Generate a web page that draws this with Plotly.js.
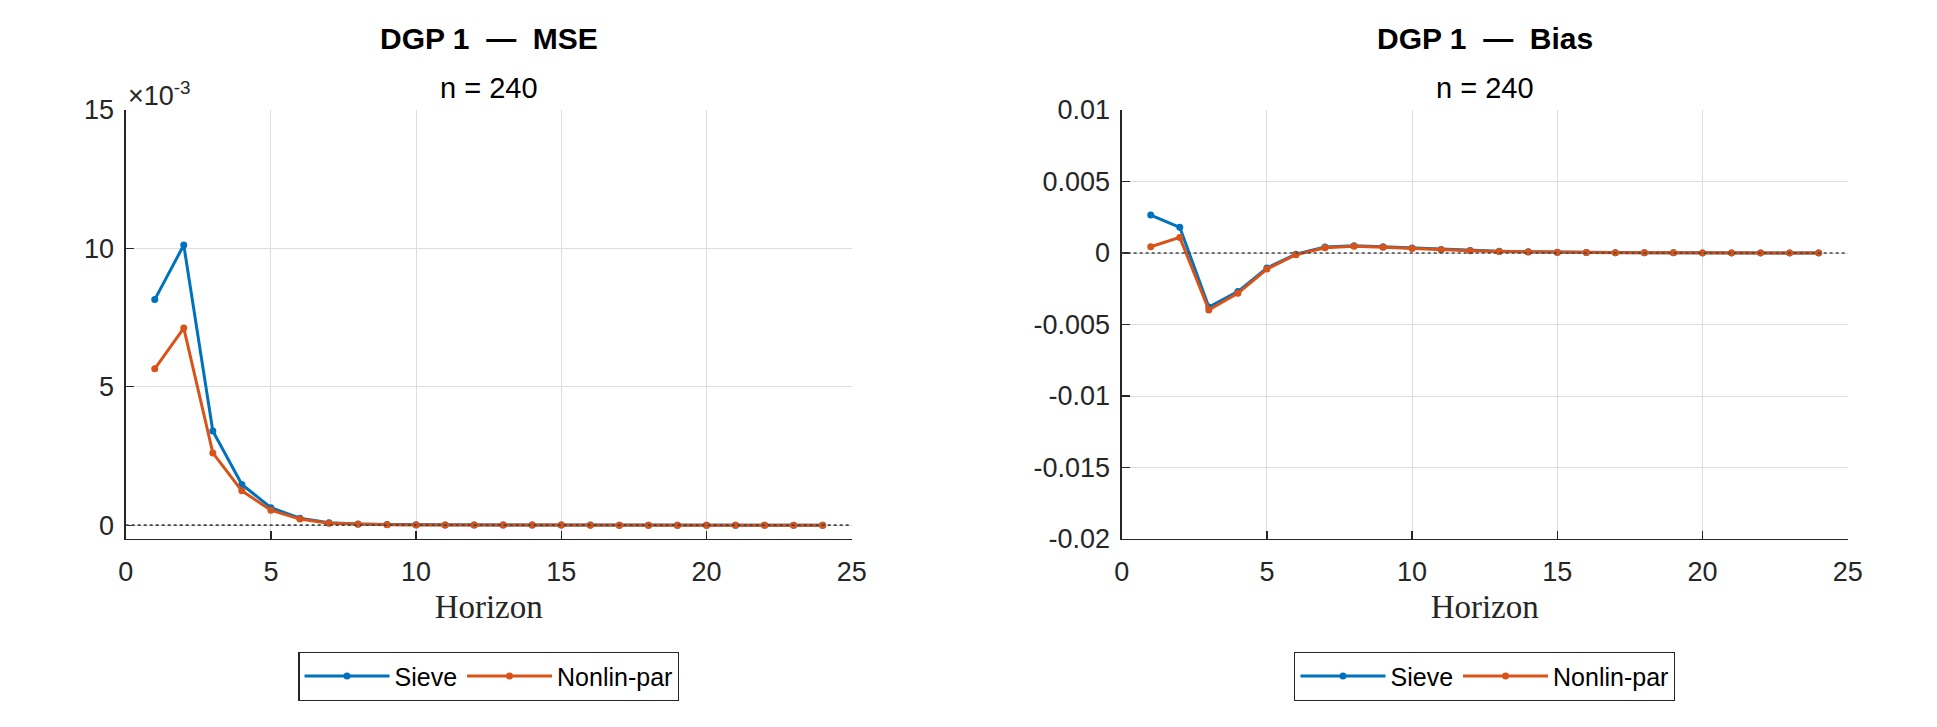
<!DOCTYPE html>
<html>
<head>
<meta charset="utf-8">
<script src="https://cdn.plot.ly/plotly-3.0.1.min.js"></script>
<style>html,body{margin:0;padding:0;background:#fff;}#chart{width:1937px;height:727px;}</style>
</head>
<body>
<div id="chart"></div>
<script>
// ---- data ----
const horizon = [1,2,3,4,5,6,7,8,9,10,11,12,13,14,15,16,17,18,19,20,21,22,23,24];
const mseSieve  = [8.15e-3,10.12e-3,3.40e-3,1.47e-3,0.63e-3,0.25e-3,0.09e-3,0.04e-3,0.02e-3,0.012e-3,0.008e-3,0.005e-3,0.004e-3,0.003e-3,0.002e-3,0.002e-3,0.001e-3,0.001e-3,0.001e-3,0.001e-3,0.001e-3,0.001e-3,0.001e-3,0.001e-3];
const mseNonlin = [5.65e-3,7.12e-3,2.61e-3,1.24e-3,0.54e-3,0.22e-3,0.07e-3,0.03e-3,0.015e-3,0.008e-3,0.005e-3,0.004e-3,0.003e-3,0.002e-3,0.002e-3,0.001e-3,0.001e-3,0.001e-3,0.001e-3,0.001e-3,0.001e-3,0.001e-3,0.001e-3,0.001e-3];
const biasSieve  = [2.65e-3,1.80e-3,-3.78e-3,-2.70e-3,-1.05e-3,-0.08e-3,0.42e-3,0.50e-3,0.44e-3,0.35e-3,0.25e-3,0.18e-3,0.12e-3,0.08e-3,0.05e-3,0.03e-3,0.02e-3,0.01e-3,0.01e-3,0.005e-3,0.003e-3,0.002e-3,0.001e-3,0.001e-3];
const biasNonlin = [0.44e-3,1.09e-3,-3.98e-3,-2.82e-3,-1.12e-3,-0.12e-3,0.36e-3,0.47e-3,0.41e-3,0.32e-3,0.22e-3,0.15e-3,0.10e-3,0.07e-3,0.04e-3,0.03e-3,0.02e-3,0.01e-3,0.01e-3,0.005e-3,0.003e-3,0.002e-3,0.001e-3,0.001e-3];
const seriesNames = ['Sieve','Nonlin-par'];
const panelTitles = ['DGP 1  \u2014  MSE','DGP 1  \u2014  Bias'];
const subTitle = 'n = 240';
const xTicks = [0,5,10,15,20,25];
const mseTickVals = [0,0.005,0.01,0.015];
const mseTickText = ['0','5','10','15'];
const biasTickVals = [0.01,0.005,0,-0.005,-0.01,-0.015,-0.02];
const biasTickText = ['0.01','0.005','0','-0.005','-0.01','-0.015','-0.02'];

// ---- styling ----
const W = 1937, H = 727;
const blue = '#0072BD', orange = '#D95319';
const axCol = '#262626', gridCol = '#dddddd';
const sans = 'Liberation Sans, Arial, sans-serif';
const tickFont = {family:sans, size:27, color:axCol};
const px = (a,b)=>[a/W,b/W];
const py = (top,bottom)=>[1-bottom/H, 1-top/H];

function mk(x, y, name, color, xa, ya, legend){
  return {x:x, y:y, name:name, type:'scatter', mode:'lines+markers',
    xaxis:xa, yaxis:ya, legend:legend, showlegend:true,
    line:{color:color, width:3}, marker:{color:color, size:7, symbol:'circle'}};
}
const traces = [
  mk(horizon, mseSieve, seriesNames[0], blue, 'x','y','legend'),
  mk(horizon, mseNonlin, seriesNames[1], orange, 'x','y','legend'),
  mk(horizon, biasSieve, seriesNames[0], blue, 'x2','y2','legend2'),
  mk(horizon, biasNonlin, seriesNames[1], orange, 'x2','y2','legend2')
];

function xax(dom, anchor){
  return {domain:dom, anchor:anchor, range:[0,25], tickvals:xTicks, ticktext:xTicks.map(String),
    ticks:'inside', ticklen:8, tickcolor:axCol, tickwidth:1.3, showline:true, linecolor:axCol, linewidth:1.3,
    showgrid:true, gridcolor:gridCol, gridwidth:1, zeroline:false, tickfont:tickFont, mirror:false,
    ticklabelstandoff:8,
    title:{text:'Horizon', font:{family:'Liberation Serif, Times New Roman, serif', size:33, color:axCol}, standoff:9}};
}
function yax(dom, anchor, range, tv, tt){
  return {domain:dom, anchor:anchor, range:range, tickvals:tv, ticktext:tt,
    ticks:'inside', ticklen:8, tickcolor:axCol, tickwidth:1.3, showline:true, linecolor:axCol, linewidth:1.3,
    showgrid:true, gridcolor:gridCol, gridwidth:1, zeroline:false, tickfont:tickFont, ticklabelstandoff:5};
}
const yDom = py(110,539);
const x1 = px(125.7,851.7), x2 = px(1121.7,1847.7);
function leg(dom){
  return {x:(dom[0]+dom[1])/2, xanchor:'center', y:1-652/H, yanchor:'top', orientation:'h',
    bordercolor:axCol, borderwidth:1.3, bgcolor:'#fff', font:{family:sans, size:25, color:'#000'},
    itemwidth:85, tracegroupgap:0};
}
const layout = {
  width:W, height:H, margin:{l:0,r:0,t:0,b:0}, paper_bgcolor:'#fff', plot_bgcolor:'#fff',
  showlegend:true,
  xaxis: xax(x1,'y'), yaxis: yax(yDom,'x',[-0.0005,0.015], mseTickVals, mseTickText),
  xaxis2: xax(x2,'y2'), yaxis2: yax(yDom,'x2',[-0.02,0.01], biasTickVals, biasTickText),
  legend: leg(x1), legend2: leg(x2),
  shapes:[
    {type:'line', xref:'x', yref:'y', x0:0, x1:25, y0:0, y1:0, line:{color:'#444', width:1.6, dash:'dot'}, layer:'above'},
    {type:'line', xref:'x2', yref:'y2', x0:0, x1:25, y0:0, y1:0, line:{color:'#444', width:1.6, dash:'dot'}, layer:'above'}
  ],
  annotations:[
    {text:'<b>'+panelTitles[0]+'</b>', xref:'paper', yref:'paper', x:(x1[0]+x1[1])/2, y:1-38/H, xanchor:'center', yanchor:'middle', showarrow:false, font:{family:sans, size:30, color:'#000'}},
    {text:subTitle, xref:'paper', yref:'paper', x:(x1[0]+x1[1])/2, y:1-88/H, xanchor:'center', yanchor:'middle', showarrow:false, font:{family:sans, size:29, color:'#000'}},
    {text:'<b>'+panelTitles[1]+'</b>', xref:'paper', yref:'paper', x:(x2[0]+x2[1])/2, y:1-38/H, xanchor:'center', yanchor:'middle', showarrow:false, font:{family:sans, size:30, color:'#000'}},
    {text:subTitle, xref:'paper', yref:'paper', x:(x2[0]+x2[1])/2, y:1-88/H, xanchor:'center', yanchor:'middle', showarrow:false, font:{family:sans, size:29, color:'#000'}},
    {text:'\u00d710<sup>-3</sup>', xref:'paper', yref:'paper', x:126/W, y:1-94/H, xanchor:'left', yanchor:'middle', showarrow:false, font:{family:sans, size:27, color:axCol}}
  ]
};
Plotly.newPlot('chart', traces, layout, {staticPlot:true, displayModeBar:false});
</script>
</body>
</html>
